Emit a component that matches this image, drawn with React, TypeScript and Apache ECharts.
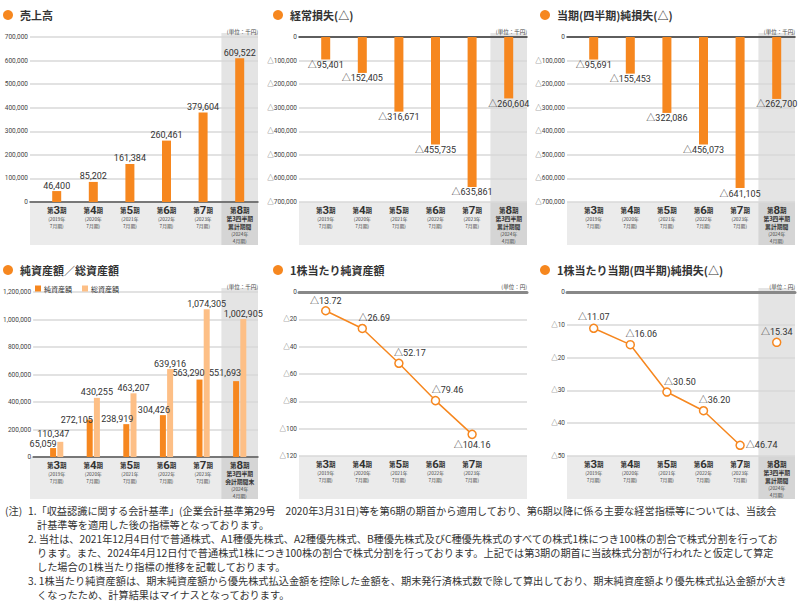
import React, { useEffect, useRef } from 'react';
import * as echarts from 'echarts';

// ---------- data ----------
const periods = ['第3期', '第4期', '第5期', '第6期', '第7期', '第8期'];
const years = ['2019年', '2020年', '2021年', '2022年', '2023年', '2024年'];
const months = ['7月期', '7月期', '7月期', '7月期', '7月期', '4月期'];

const sales = [46400, 85202, 161384, 260461, 379604, 609522];
const ordinaryLoss = [-95401, -152405, -316671, -455735, -635861, -260604];
const netLoss = [-95691, -155453, -322086, -456073, -641105, -262700];
const netAssets = [65059, 272105, 238919, 304426, 563290, 551693];
const totalAssets = [110347, 430255, 463207, 639916, 1074305, 1002905];
const bpsValues = [-13.72, -26.69, -52.17, -79.46, -104.16, null];
const epsValues = [-11.07, -16.06, -30.5, -36.2, -46.74, null];
const epsLatest = [null, null, null, null, null, -15.34];

const titles = [
  '売上高',
  '経常損失(△)',
  '当期(四半期)純損失(△)',
  '純資産額／総資産額',
  '1株当たり純資産額',
  '1株当たり当期(四半期)純損失(△)',
];
const units = ['(単位：千円)', '(単位：千円)', '(単位：千円)', '(単位：千円)', '(単位：円)', '(単位：円)'];
const latestSub = [
  ['第3四半期', '累計期間'],
  ['第3四半期', '累計期間'],
  ['第3四半期', '累計期間'],
  ['第3四半期', '会計期間末'],
  null,
  ['第3四半期', '累計期間'],
];
const legendNames = ['純資産額', '総資産額'];

const noteLines = [
  '1.「収益認識に関する会計基準」(企業会計基準第29号　2020年3月31日)等を第6期の期首から適用しており、第6期以降に係る主要な経営指標等については、当該会',
  '計基準等を適用した後の指標等となっております。',
  '2. 当社は、2021年12月4日付で普通株式、A1種優先株式、A2種優先株式、B種優先株式及びC種優先株式のすべての株式1株につき100株の割合で株式分割を行ってお',
  'ります。また、2024年4月12日付で普通株式1株につき100株の割合で株式分割を行っております。上記では第3期の期首に当該株式分割が行われたと仮定して算定',
  'した場合の1株当たり指標の推移を記載しております。',
  '3. 1株当たり純資産額は、期末純資産額から優先株式払込金額を控除した金額を、期末発行済株式数で除して算出しており、期末純資産額より優先株式払込金額が大き',
  'くなったため、計算結果はマイナスとなっております。',
];
const notePrefix = '(注)';

// ---------- layout / style ----------
const ORANGE = '#F6871F';
const LIGHT = '#FDBF86';
const FF = '"Noto Sans CJK JP", sans-serif';
const NF = 'Roboto, "Noto Sans CJK JP", sans-serif';
const CAT_W = 36.6;

const panels = [
  { axisLeft: 30, axisRight: 258, top: 37, height: 165, labelBottom: 245, min: 0, max: 700000, interval: 100000, band: true, titleX: 8, titleY: 15, zeroColor: '#555', zeroWidth: 1.5 },
  { axisLeft: 299, axisRight: 527, top: 37, height: 165, labelBottom: 245, min: -700000, max: 0, interval: 100000, band: true, titleX: 278, titleY: 15, zeroColor: '#333', zeroWidth: 1.5 },
  { axisLeft: 567, axisRight: 795, top: 37, height: 165, labelBottom: 245, min: -700000, max: 0, interval: 100000, band: true, titleX: 545, titleY: 15, zeroColor: '#333', zeroWidth: 1.5 },
  { axisLeft: 30, axisRight: 258, top: 292, height: 165, labelBottom: 499, min: 0, max: 1200000, interval: 200000, band: true, titleX: 8, titleY: 270, zeroColor: '#555', zeroWidth: 1.5 },
  { axisLeft: 299, axisRight: 527, top: 292, height: 164, labelBottom: 499, min: -120, max: 0, interval: 20, band: false, titleX: 278, titleY: 270, zeroColor: '#888', zeroWidth: 3 },
  { axisLeft: 567, axisRight: 795, top: 292, height: 164, labelBottom: 499, min: -50, max: 0, interval: 10, band: true, titleX: 545, titleY: 270, zeroColor: '#888', zeroWidth: 3 },
];

const fmtNum = (v: number) =>
  v === 0 ? '0' : (v < 0 ? '△' : '') + Math.abs(v).toLocaleString('en-US');
const fmtDec = (v: number) => '△' + Math.abs(v).toFixed(2);

const rich = {
  s: { fontSize: 6.5, fontWeight: 'bold', color: '#333', lineHeight: 10, fontFamily: FF },
  n: { fontSize: 11.5, fontWeight: 'bold', color: '#333', lineHeight: 10, fontFamily: NF },
  b: { fontSize: 5.8, fontWeight: 'bold', color: '#333', lineHeight: 7.4, fontFamily: FF },
  y: { fontSize: 4.8, color: '#444', lineHeight: 7, fontFamily: FF },
};

const catFormatter = (sub: string[] | null, hideLast: boolean) => (value: string, index: number) => {
  if (hideLast && index === periods.length - 1) return '';
  let s = value.replace(/第(\d+)期/, '{s|第}{n|$1}{s|期}');
  if (index === periods.length - 1 && sub) {
    s += sub.map((t) => '\n{b|' + t + '}').join('');
  }
  s += '\n{y|(' + years[index] + '}\n{y|' + months[index] + ')}';
  return s;
};

function buildOption() {
  const grid: any[] = [];
  const xAxis: any[] = [];
  const yAxis: any[] = [];
  const series: any[] = [];
  const graphic: any[] = [];

  panels.forEach((p, i) => {
    const dataLeft = p.axisRight - periods.length * CAT_W;
    const gi = grid.length;
    grid.push({ left: p.axisLeft, top: p.top, width: p.axisRight - p.axisLeft, height: p.height });
    grid.push({ left: dataLeft, top: p.top, width: p.axisRight - dataLeft, height: p.height });
    xAxis.push({
      type: 'value', gridIndex: gi, min: 0, max: 1,
      axisLabel: { show: false }, axisTick: { show: false }, splitLine: { show: false },
      axisLine: { show: true, onZero: true, lineStyle: { color: p.zeroColor, width: p.zeroWidth } },
    });
    yAxis.push({
      type: 'value', gridIndex: gi, min: p.min, max: p.max, interval: p.interval,
      axisLabel: { formatter: (v: number) => fmtNum(v), fontSize: 6.5, margin: 2, color: '#444', fontFamily: NF },
      axisLine: { show: false }, axisTick: { show: false },
      splitLine: { lineStyle: { color: '#d9d9d9', width: 1.5 } },
    });
    xAxis.push({
      type: 'category', gridIndex: gi + 1, data: periods,
      axisLine: { show: false }, axisTick: { show: false },
      axisLabel: { interval: 0, margin: 3, formatter: catFormatter(latestSub[i], i === 4), rich },
    });
    yAxis.push({ type: 'value', gridIndex: gi + 1, min: p.min, max: p.max, show: false });

    // backgrounds
    const plotBottom = p.top + p.height;
    graphic.push({ type: 'rect', z: -10, shape: { x: p.axisLeft, y: plotBottom, width: p.axisRight - p.axisLeft, height: p.labelBottom - plotBottom }, style: { fill: '#ebebeb' } });
    if (p.band) {
      graphic.push({ type: 'rect', z: -9, shape: { x: p.axisRight - CAT_W, y: p.top - 4, width: CAT_W, height: plotBottom - p.top + 4 }, style: { fill: '#e4e4e4' } });
      graphic.push({ type: 'rect', z: -9, shape: { x: p.axisRight - CAT_W, y: plotBottom, width: CAT_W, height: p.labelBottom - plotBottom }, style: { fill: '#d5d5d5' } });
    }
    // title
    graphic.push({ type: 'circle', z: 10, shape: { cx: p.titleX, cy: p.titleY, r: 5 }, style: { fill: ORANGE } });
    graphic.push({
      type: 'text', z: 10, x: p.titleX + 12, y: p.titleY,
      style: { text: titles[i], fill: '#333', font: 'bold 11px ' + FF, textVerticalAlign: 'middle', verticalAlign: 'middle' },
    });
    graphic.push({
      type: 'text', z: 10, x: p.axisRight, y: p.top - 5,
      style: { text: units[i], fill: '#444', font: '5.5px ' + FF, textAlign: 'right', align: 'right', textVerticalAlign: 'middle', verticalAlign: 'middle' },
    });
  });

  const barLabel = (pos: string) => ({
    show: true, position: pos, distance: 1, fontSize: 9, color: '#333', fontFamily: NF,
    formatter: (d: any) => fmtNum(d.value),
  });

  series.push({ type: 'bar', xAxisIndex: 1, yAxisIndex: 1, data: sales, barWidth: 9, itemStyle: { color: ORANGE }, label: barLabel('top') });
  series.push({ type: 'bar', xAxisIndex: 3, yAxisIndex: 3, data: ordinaryLoss, barWidth: 9, itemStyle: { color: ORANGE }, label: barLabel('bottom') });
  series.push({ type: 'bar', xAxisIndex: 5, yAxisIndex: 5, data: netLoss, barWidth: 9, itemStyle: { color: ORANGE }, label: barLabel('bottom') });

  const darkOffsets = [[-10, 1], [-13, 6], [-9, 0], [-9, 0], [-11, -1], [-11, -3]];
  const lightOffsets = [[-7, -2], [0, 0], [0, 0], [0, 0], [0, 0], [0, 0]];
  series.push({
    name: legendNames[0], type: 'bar', xAxisIndex: 7, yAxisIndex: 7, barWidth: 6, barGap: '20%',
    itemStyle: { color: ORANGE },
    data: netAssets.map((v, k) => ({ value: v, label: { offset: darkOffsets[k] } })),
    label: barLabel('top'),
  });
  series.push({
    name: legendNames[1], type: 'bar', xAxisIndex: 7, yAxisIndex: 7, barWidth: 6, barGap: '20%',
    itemStyle: { color: LIGHT },
    data: totalAssets.map((v, k) => ({ value: v, label: { offset: lightOffsets[k] } })),
    label: barLabel('top'),
  });

  const pointLabel = { show: true, fontSize: 9, color: '#333', fontFamily: NF, distance: 1, formatter: (d: any) => fmtDec(d.value) };
  const lineCommon = {
    type: 'line', symbol: 'circle', symbolSize: 8,
    lineStyle: { color: ORANGE, width: 1.5 },
    itemStyle: { color: '#fff', borderColor: ORANGE, borderWidth: 1.5 },
  };
  const bpsLabelPos = [['top', [0, 0]], ['top', [12, 0]], ['top', [11, 0]], ['top', [12, 0]], ['bottom', [0, 0]], ['top', [0, 0]]];
  series.push({
    ...lineCommon, xAxisIndex: 9, yAxisIndex: 9,
    data: bpsValues.map((v, k) => ({ value: v, label: { position: bpsLabelPos[k][0], offset: bpsLabelPos[k][1] } })),
    label: pointLabel,
  });
  const epsLabelPos = [['top', [0, -1]], ['top', [11, 0]], ['top', [13, 0]], ['top', [11, 0]], ['right', [0, 0]], ['top', [0, 0]]];
  series.push({
    ...lineCommon, xAxisIndex: 11, yAxisIndex: 11,
    data: epsValues.map((v, k) => ({ value: v, label: { position: epsLabelPos[k][0], offset: epsLabelPos[k][1] } })),
    label: pointLabel,
  });
  series.push({
    ...lineCommon, xAxisIndex: 11, yAxisIndex: 11,
    data: epsLatest.map((v) => ({ value: v })),
    label: { ...pointLabel, position: 'top' },
  });

  // notes
  const noteY = [510, 524, 538, 552, 566, 580, 594];
  const noteX = [28, 37, 28, 37, 37, 28, 37];
  const noteFont = '10.2px ' + FF;
  graphic.push({ type: 'text', z: 10, x: 5, y: noteY[0], style: { text: notePrefix, fill: '#333', font: noteFont, textVerticalAlign: 'middle', verticalAlign: 'middle' } });
  noteLines.forEach((t, k) => {
    graphic.push({ type: 'text', z: 10, x: noteX[k], y: noteY[k], style: { text: t, fill: '#333', font: noteFont, textVerticalAlign: 'middle', verticalAlign: 'middle' } });
  });

  return {
    animation: false,
    backgroundColor: '#fff',
    textStyle: { fontFamily: FF },
    grid, xAxis, yAxis, series, graphic,
    legend: {
      data: legendNames, left: 30, top: 280, itemWidth: 6, itemHeight: 6, itemGap: 10, icon: 'rect',
      textStyle: { fontSize: 7, color: '#333', fontFamily: FF, padding: [0, 0, 0, -2] },
      selectedMode: false,
    },
  };
}

export default function App() {
  const ref = useRef<HTMLDivElement>(null);
  useEffect(() => {
    if (!ref.current) return;
    const chart = echarts.init(ref.current, undefined, { renderer: 'svg' });
    chart.setOption(buildOption() as any);
    return () => chart.dispose();
  }, []);
  return <div ref={ref} style={{ position: 'fixed', left: 0, top: 0, width: 800, height: 601, background: '#fff' }} />;
}
